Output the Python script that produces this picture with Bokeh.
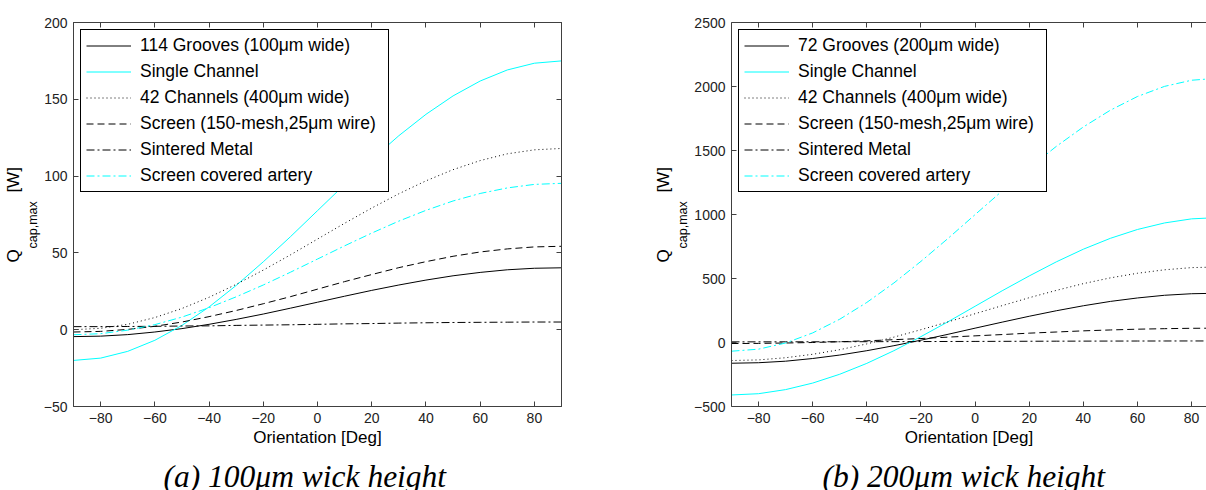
from bokeh.plotting import figure
from bokeh.models import Range1d, FixedTicker, LinearAxis, Legend, LegendItem, Title, Label
from bokeh.layouts import row, column
from bokeh.embed import file_html
from bokeh.resources import INLINE

# ---------------- data ----------------
theta = [-90, -80, -70, -60, -50, -40, -30, -20, -10, 0, 10, 20, 30, 40, 50, 60, 70, 80, 90]

labels_a = ["114 Grooves (100\u03bcm wide)", "Single Channel", "42 Channels (400\u03bcm wide)",
            "Screen (150-mesh,25\u03bcm wire)", "Sintered Metal", "Screen covered artery"]
labels_b = ["72 Grooves (200\u03bcm wide)", "Single Channel", "42 Channels (400\u03bcm wide)",
            "Screen (150-mesh,25\u03bcm wire)", "Sintered Metal", "Screen covered artery"]

# (a) 100 um wick height
a_grooves = [-4.5, -4.2, -3.2, -1.5, 0.7, 3.5, 6.7, 10.2, 14.0, 17.9, 21.8, 25.6, 29.1, 32.3, 35.1, 37.3, 39.0, 40.0, 40.3]
a_single = [-20, -18.5, -14.1, -6.9, 2.8, 14.8, 28.8, 44.2, 60.5, 77.5, 94.5, 110.8, 126.3, 140.2, 152.2, 161.9, 169.1, 173.5, 175]
a_channels = [0, 0.9, 3.5, 7.9, 13.8, 21.1, 29.5, 38.8, 48.7, 59, 69.3, 79.2, 88.5, 96.9, 104.2, 110.1, 114.5, 117.1, 118]
a_screen = [-1.5, -1.1, 0.2, 2.2, 5.0, 8.5, 12.5, 16.9, 21.5, 26.4, 31.3, 35.9, 40.4, 44.3, 47.8, 50.6, 52.6, 53.9, 54.3]
a_sintered = [2, 2, 2.1, 2.2, 2.4, 2.5, 2.8, 3.0, 3.2, 3.5, 3.8, 4.0, 4.3, 4.5, 4.7, 4.8, 4.9, 5.0, 5.0]
a_artery = [-3.3, -2.6, -0.3, 3.3, 8.2, 14.3, 21.4, 29.1, 37.4, 46, 54.6, 62.9, 70.7, 77.7, 83.8, 88.7, 92.3, 94.6, 95.3]

# (b) 200 um wick height
b_grooves = [-162, -158, -146, -125, -98, -64, -25, 18, 64, 112, 159, 205, 248, 287, 321, 348, 369, 381, 385]
b_single = [-410, -400, -368, -317, -248, -163, -64, 46, 162, 283, 404, 520, 630, 729, 814, 883, 934, 966, 976]
b_channels = [-141, -136, -119, -92, -56, -11, 42, 100, 161, 225, 288, 350, 407, 460, 505, 541, 568, 585, 590]
b_screen = [-8, -7, -4, 0, 6, 13, 22, 31, 42, 52, 62, 73, 82, 91, 98, 104, 108, 111, 112]
b_sintered = [5, 5, 5.2, 5.5, 5.8, 6.3, 6.8, 7.3, 7.9, 8.5, 9.1, 9.7, 10.3, 10.8, 11.2, 11.5, 11.8, 12, 12]
b_artery = [-68, -52, -4, 75, 182, 313, 465, 634, 813, 999, 1184, 1363, 1532, 1684, 1815, 1922, 2001, 2049, 2065]

x_ticks = [-80, -60, -40, -20, 0, 20, 40, 60, 80]
a_yticks = [-50, 0, 50, 100, 150, 200]
b_yticks = [-500, 0, 500, 1000, 1500, 2000, 2500]

x_label = "Orientation [Deg]"
y_main = "Q" + "\u00a0" * 12 + "[W]"
y_sub = "cap,max"
caption_a = "(a) 100\u03bcm wick height"
caption_b = "(b) 200\u03bcm wick height"

# ---------------- styles ----------------
CY = "#00FFFF"
BK = "#000000"
styles = [(BK, "solid"), (CY, "solid"), (BK, "1 3"), (BK, "7 4"), (BK, "8 3 2 3"), (CY, "8 3 2 3")]
AX = "#404040"
SANS = "Liberation Sans"
SERIF = "Liberation Serif"
PLOT_H = 452
CAP_H = 490 - PLOT_H


def style_axis(ax, ticks, labels=True):
    ax.ticker = FixedTicker(ticks=ticks)
    ax.major_tick_in = 5
    ax.major_tick_out = 0
    ax.minor_tick_in = 0
    ax.minor_tick_out = 0
    ax.axis_line_color = AX
    ax.major_tick_line_color = AX
    if labels:
        ax.major_label_text_font = SANS
        ax.major_label_text_font_size = "14px"
        ax.major_label_text_color = "#222222"
        ax.major_label_standoff = 6
    else:
        ax.major_label_text_font_size = "0px"
        ax.major_label_text_color = None


def make_panel(width, min_left, min_right, xr, yr, yticks, series, labels, box_right):
    p = figure(width=width, height=PLOT_H, x_range=Range1d(*xr), y_range=Range1d(*yr),
               output_backend="svg", toolbar_location=None,
               min_border_left=min_left, min_border_right=min_right,
               min_border_top=22, min_border_bottom=PLOT_H - 406)
    p.xgrid.visible = False
    p.ygrid.visible = False
    p.background_fill_color = "white"
    p.border_fill_color = "white"
    p.outline_line_color = AX if box_right else None

    style_axis(p.xaxis[0], x_ticks)
    style_axis(p.yaxis[0], yticks)
    p.xaxis[0].axis_label = x_label
    p.xaxis[0].axis_label_text_font = SANS
    p.xaxis[0].axis_label_text_font_size = "17px"
    p.xaxis[0].axis_label_text_font_style = "normal"
    p.xaxis[0].axis_label_text_color = "black"
    p.xaxis[0].axis_label_standoff = 2
    p.yaxis[0].axis_label = None

    top = LinearAxis()
    style_axis(top, x_ticks, labels=False)
    p.add_layout(top, "above")
    if box_right:
        right = LinearAxis()
        style_axis(right, yticks, labels=False)
        p.add_layout(right, "right")

    items = []
    for ys, (col, dash), lab in zip(series, styles, labels):
        r = p.line(theta, ys, line_color=col, line_dash=dash, line_width=1)
        items.append(LegendItem(label=lab, renderers=[r]))

    leg = Legend(items=items, location="top_left", margin=7, padding=5, spacing=5,
                 glyph_width=45, glyph_height=19, label_height=19, label_width=243,
                 label_standoff=9, label_text_font=SANS, label_text_font_size="17.5px",
                 label_text_color="black", border_line_color="black", border_line_width=1,
                 border_line_alpha=1, background_fill_color="white", background_fill_alpha=1)
    p.add_layout(leg)

    # y-axis label: Q_cap,max [W]  (subscript panel nearer the axis)
    p.add_layout(Title(text=y_sub, align="left", offset=158, standoff=1,
                       text_font=SANS, text_font_size="12.5px", text_font_style="normal",
                       text_color="black"), "left")
    p.add_layout(Title(text=y_main, align="left", offset=144, standoff=2,
                       text_font=SANS, text_font_size="17px", text_font_style="normal",
                       text_color="black"), "left")
    return p


def make_caption(width, text, x):
    c = figure(width=width, height=CAP_H, x_range=Range1d(0, width), y_range=Range1d(0, CAP_H),
               output_backend="svg", toolbar_location=None,
               x_axis_location=None, y_axis_location=None, min_border=0)
    c.outline_line_color = None
    c.grid.visible = False
    c.background_fill_color = "white"
    c.border_fill_color = "white"
    c.add_layout(Label(x=x, y=14, text=text, text_align="left", text_baseline="alphabetic",
                       text_font=SERIF, text_font_style="italic", text_font_size="31.5px",
                       text_color="black"))
    return c


p1 = make_panel(620, 73, 59, (-90, 90), (-50, 200), a_yticks,
                [a_grooves, a_single, a_channels, a_screen, a_sintered, a_artery],
                labels_a, True)
p2 = make_panel(586, 111, 0, (-90, 85.5), (-500, 2500), b_yticks,
                [b_grooves, b_single, b_channels, b_screen, b_sintered, b_artery],
                labels_b, False)
c1 = make_caption(620, caption_a, 163)
c2 = make_caption(586, caption_b, 202)

layout = column(row(p1, p2), row(c1, c2))
open("out.html", "w").write(file_html(layout, INLINE))
